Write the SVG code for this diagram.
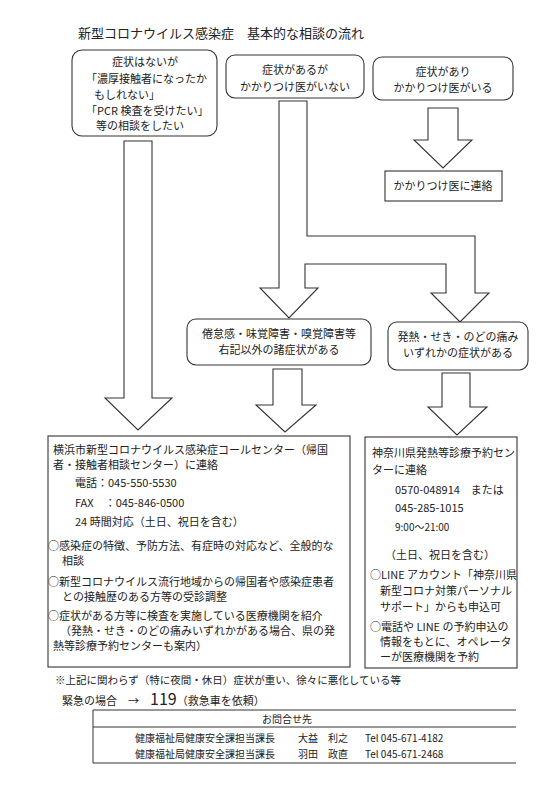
<svg xmlns="http://www.w3.org/2000/svg" width="560" height="792" viewBox="0 0 560 792">
<style>
text{font-family:"Noto Sans CJK JP","Noto Sans",sans-serif;fill:#222;font-size:11px}
.c{text-anchor:middle}
.box{fill:#fff;stroke:#333;stroke-width:1.1}
.arr{fill:#fff;stroke:#333;stroke-width:1.1;stroke-linejoin:miter}
.ttl{font-size:13px}
.ln{stroke:#333;stroke-width:1;fill:none}
.s10{font-size:10px}
</style>
<rect width="560" height="792" fill="#fff"/>
<text class="ttl" x="78" y="38">新型コロナウイルス感染症　基本的な相談の流れ</text>

<g id="connectors">
<path class="arr" d="M124,141 V398 H105 L138,430 L172,398 H152 V141 Z"/>
<path class="arr" d="M279,101 V288 H260 L289,318 L318,288 H305 V264 H446 V293 H431 L460,322 L489,293 H475 V236 H307 V101 Z"/>
<path class="arr" d="M428,108 V140 H414 L443,168 L472,140 H458 V108 Z"/>
<path class="arr" d="M273,369 V405 H256 L285,432 L316,405 H302 V369 Z"/>
<path class="arr" d="M442,373 V407 H428 L457,435 L487,407 H470 V373 Z"/>
</g>

<g id="n-noSymptom">
<rect class="box" x="72" y="50" width="145" height="86" rx="10"/>
<text class="c" x="145" y="66">症状はないが</text>
<text x="86" y="83">「濃厚接触者になったか</text>
<text x="94" y="99">もしれない」</text>
<text x="86" y="115">「PCR 検査を受けたい」</text>
<text class="c" x="140" y="130">等の相談をしたい</text>
</g>

<g id="n-noDoctor">
<rect class="box" x="226" y="55" width="138" height="43" rx="9"/>
<text class="c" x="295" y="74">症状があるが</text>
<text class="c" x="295" y="91">かかりつけ医がいない</text>
</g>

<g id="n-hasDoctor">
<rect class="box" x="373" y="57" width="140" height="43" rx="9"/>
<text class="c" x="443" y="76">症状があり</text>
<text class="c" x="443" y="92">かかりつけ医がいる</text>
</g>

<g id="n-contactDoctor">
<rect class="box" x="385" y="171" width="117" height="30"/>
<text class="c" x="443" y="190">かかりつけ医に連絡</text>
</g>

<g id="n-otherSymptoms">
<rect class="box" x="187" y="319" width="184" height="46" rx="9"/>
<text class="c" x="279" y="338">倦怠感・味覚障害・嗅覚障害等</text>
<text class="c" x="279" y="354">右記以外の諸症状がある</text>
</g>

<g id="n-fever">
<rect class="box" x="388" y="322" width="140" height="48" rx="9"/>
<text class="c" x="458" y="341">発熱・せき・のどの痛み</text>
<text class="c" x="458" y="357">いずれかの症状がある</text>
</g>

<g id="n-callCenter">
<rect class="box" x="48" y="436" width="302" height="231"/>
<text x="53" y="454">横浜市新型コロナウイルス感染症コールセンター（帰国</text>
<text x="53" y="469">者・接触者相談センター）に連絡</text>
<text x="75" y="487">電話：045-550-5530</text>
<text x="75" y="507">FAX　：045-846-0500</text>
<text x="75" y="526">24 時間対応（土日、祝日を含む）</text>
<text x="48" y="550">○感染症の特徴、予防方法、有症時の対応など、全般的な</text>
<text x="62" y="565">相談</text>
<text x="48" y="586">○新型コロナウイルス流行地域からの帰国者や感染症患者</text>
<text x="62" y="601">との接触歴のある方等の受診調整</text>
<text x="48" y="620">○症状がある方等に検査を実施している医療機関を紹介</text>
<text x="60" y="635">（発熱・せき・のどの痛みいずれかがある場合、県の発</text>
<text x="53" y="650">熱等診療予約センターも案内）</text>
</g>

<g id="n-feverCenter">
<rect class="box" x="365" y="437" width="152" height="231"/>
<text x="372" y="457">神奈川県発熱等診療予約セン</text>
<text x="372" y="474">ターに連絡</text>
<text x="395" y="494">0570-048914　または</text>
<text x="395" y="512">045-285-1015</text>
<text x="395" y="531" class="s10">9:00～21:00</text>
<text x="385" y="559">（土日、祝日を含む）</text>
<text x="370" y="579">○LINE アカウント「神奈川県</text>
<text x="380" y="595">新型コロナ対策パーソナル</text>
<text x="380" y="611">サポート」からも申込可</text>
<text x="370" y="631">○電話や LINE の予約申込の</text>
<text x="380" y="646">情報をもとに、オペレータ</text>
<text x="380" y="661">ーが医療機関を予約</text>
</g>

<g id="n-note">
<text x="55" y="684" style="font-size:10.5px">※上記に関わらず（特に夜間・休日）症状が重い、徐々に悪化している等</text>
<text x="62" y="705">緊急の場合　→　<tspan style="font-size:16px">119</tspan>（救急車を依頼）</text>
</g>

<g id="n-contact">
<path class="ln" d="M93,710 H516 M93,727 H516 M93,710 V763 M93,763 H516"/>
<text class="c s10" x="287" y="723">お問合せ先</text>
<text class="s10" x="135" y="742">健康福祉局健康安全課担当課長</text>
<text class="s10" x="298" y="742">大益　利之</text>
<text class="s10" x="365" y="742">Tel 045-671-4182</text>
<text class="s10" x="135" y="758">健康福祉局健康安全課担当課長</text>
<text class="s10" x="298" y="758">羽田　政直</text>
<text class="s10" x="365" y="758">Tel 045-671-2468</text>
</g>
</svg>
